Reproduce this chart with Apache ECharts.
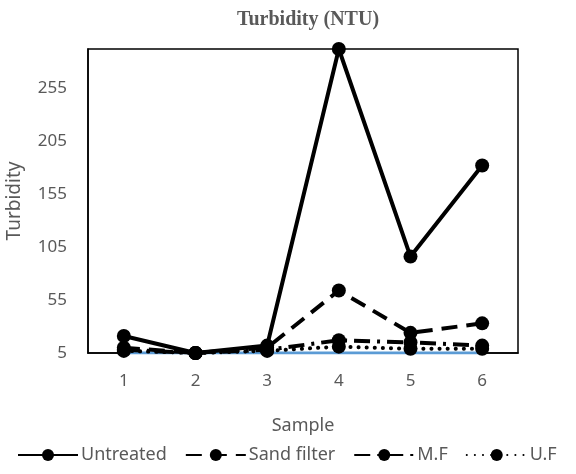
<!DOCTYPE html>
<html>
<head>
<meta charset="utf-8">
<script src="https://cdn.jsdelivr.net/npm/echarts@6/dist/echarts.min.js"></script>
<style>
  html, body { margin: 0; padding: 0; background: #fff; }
  #chart { width: 576px; height: 474px; }
</style>
</head>
<body>
<div id="chart"></div>
<script>
const samples = ['1', '2', '3', '4', '5', '6'];
const untreated = [21, 5, 12, 292, 96, 182];
const sandFilter = [10, 5, 10, 64, 24, 33];
const mf = [8, 5, 8, 17, 15, 12];
const uf = [7, 5, 7, 11, 9, 9];
const baseline = [5, 5, 5, 5, 5, 5];

const grey = '#595959';
const font = 'Noto Sans';

const chart = echarts.init(document.getElementById('chart'));

function lineSeries(name, data, width, type, cap) {
    return {
        name: name,
        type: 'line',
        data: data,
        symbol: 'circle',
        symbolSize: 14,
        itemStyle: { color: '#000' },
        lineStyle: { color: '#000', width: width, type: type, cap: cap || 'butt' },
        emphasis: { disabled: true }
    };
}

chart.setOption({
    animation: false,
    title: {
        text: 'Turbidity (NTU)',
        left: 303,
        textAlign: 'center',
        top: 5,
        textStyle: { fontFamily: 'Liberation Serif', fontWeight: 'bold', fontSize: 20, color: grey }
    },
    grid: {
        left: 88, right: 58, top: 49, bottom: 121,
        outerBoundsMode: 'none',
        containLabel: false,
        show: true, borderColor: '#000', borderWidth: 1.5
    },
    legend: {
        bottom: 5,
        left: 12,
        itemWidth: 60,
        itemHeight: 15,
        itemGap: 18,
        data: ['Untreated', 'Sand filter', 'M.F', 'U.F'],
        textStyle: { color: grey, fontFamily: font, fontSize: 18, padding: [0, 0, 0, -2] }
    },
    xAxis: {
        type: 'category',
        data: samples,
        name: 'Sample',
        nameLocation: 'middle',
        nameGap: 64,
        nameTextStyle: { color: grey, fontFamily: font, fontSize: 18 },
        axisLine: { lineStyle: { color: '#000', width: 1.5 } },
        axisTick: { show: false },
        axisLabel: { color: grey, fontFamily: font, fontSize: 17, margin: 20 }
    },
    yAxis: {
        type: 'value',
        min: 5,
        max: 292,
        interval: 50,
        name: 'Turbidity',
        nameLocation: 'middle',
        nameGap: 64,
        nameTextStyle: { color: grey, fontFamily: font, fontSize: 19 },
        axisLine: { show: true, lineStyle: { color: '#000', width: 1.5 } },
        axisTick: { show: false },
        splitLine: { show: false },
        axisLabel: { color: grey, fontFamily: font, fontSize: 17, margin: 21, showMaxLabel: false }
    },
    series: [
        {
            name: 'base',
            type: 'line',
            data: baseline,
            symbol: 'none',
            lineStyle: { color: '#5b9bd5', width: 3 },
            z: 1
        },
        lineSeries('Untreated', untreated, 4, 'solid'),
        lineSeries('Sand filter', sandFilter, 4, [16, 9]),
        lineSeries('M.F', mf, 4, [16, 7, 3, 7]),
        lineSeries('U.F', uf, 4, [0.1, 8], 'round')
    ]
});
</script>
</body>
</html>
